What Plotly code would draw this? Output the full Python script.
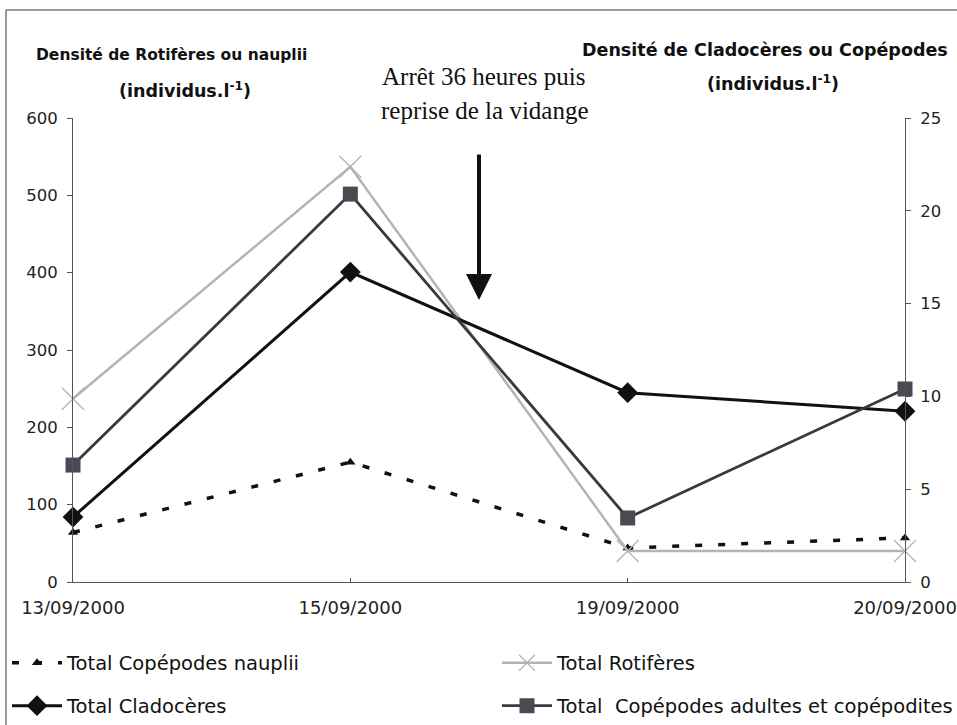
import plotly.graph_objects as go

# Sampling dates (category axis)
dates = ["13/09/2000", "15/09/2000", "19/09/2000", "20/09/2000"]

# Left axis: densities of rotifers / nauplii (individus.l-1)
nauplii = [64, 155, 44, 57]
rotiferes = [237, 537, 40, 40]

# Right axis: densities of cladocerans / copepods (individus.l-1)
cladoceres = [3.5, 16.7, 10.2, 9.2]
copepodes_adultes = [6.3, 20.9, 3.45, 10.4]

left_ticks = [0, 100, 200, 300, 400, 500, 600]
right_ticks = [0, 5, 10, 15, 20, 25]

W, H = 957, 725
PL, PR, PT, PB = 73, 905, 118, 582


def px_x(x):
    return (x - PL) / (PR - PL)


def px_y(y):
    return (PB - y) / (PB - PT)


SANS = "DejaVu Sans"
SERIF = "Liberation Serif"

fig = go.Figure()

fig.add_trace(go.Scatter(
    x=dates, y=nauplii, name="Total Copépodes nauplii", yaxis="y",
    mode="lines+markers", cliponaxis=False, legend="legend",
    line=dict(color="#111111", width=3.5, dash="7px,16px"),
    marker=dict(symbol="triangle-up", size=9, color="#111111"),
))
fig.add_trace(go.Scatter(
    x=dates, y=rotiferes, name="Total Rotifères", yaxis="y",
    mode="lines+markers", cliponaxis=False, legend="legend2",
    line=dict(color="#b4b4b4", width=2.5),
    marker=dict(symbol="x-thin-open", size=22,
                line=dict(color="#a0a0a0", width=1.3)),
))
fig.add_trace(go.Scatter(
    x=dates, y=cladoceres, name="Total Cladocères", yaxis="y2",
    mode="lines+markers", cliponaxis=False, legend="legend3",
    line=dict(color="#111111", width=3),
    marker=dict(symbol="diamond", size=16, color="#111111"),
))
fig.add_trace(go.Scatter(
    x=dates, y=copepodes_adultes,
    name="Total\u00a0 Copépodes adultes et copépodites", yaxis="y2",
    mode="lines+markers", cliponaxis=False, legend="legend4",
    line=dict(color="#3a3a3e", width=2.8),
    marker=dict(symbol="square", size=15, color="#4a4a55"),
))

axis_font = dict(family=SANS, size=16.5, color="#222222")

fig.update_layout(
    width=W, height=H,
    margin=dict(l=PL, r=W - PR, t=PT, b=H - PB, autoexpand=False),
    paper_bgcolor="white", plot_bgcolor="white",
    showlegend=True,
    xaxis=dict(
        type="category", categoryorder="array", categoryarray=dates,
        range=[0, len(dates) - 1], showgrid=False, zeroline=False,
        showline=True, linecolor="#555555", linewidth=1,
        ticks="inside", ticklen=4, tickcolor="#555555",
        tickfont=dict(family=SANS, size=18, color="#222222"),
        ticklabelstandoff=9, automargin=False,
    ),
    yaxis=dict(
        range=[0, 600], tickvals=left_ticks, showgrid=False, zeroline=False,
        showline=True, linecolor="#555555", linewidth=1,
        ticks="outside", ticklen=5, tickcolor="#555555",
        tickfont=axis_font, ticklabelstandoff=6, automargin=False,
    ),
    yaxis2=dict(
        range=[0, 25], tickvals=right_ticks, overlaying="y", side="right",
        anchor="x", showgrid=False, zeroline=False,
        showline=True, linecolor="#555555", linewidth=1,
        ticks="outside", ticklen=5, tickcolor="#555555",
        tickfont=axis_font, ticklabelstandoff=6, automargin=False,
    ),
)

legend_font = dict(family=SANS, size=19.5, color="#111111")
legend_common = dict(font=legend_font, bgcolor="rgba(0,0,0,0)",
                     borderwidth=0, itemwidth=50, xanchor="left",
                     yanchor="middle", orientation="v")
fig.update_layout(
    legend=dict(x=px_x(7), y=px_y(663), **legend_common),
    legend2=dict(x=px_x(497), y=px_y(663), **legend_common),
    legend3=dict(x=px_x(7), y=px_y(706), **legend_common),
    legend4=dict(x=px_x(497), y=px_y(706), **legend_common),
)

# Axis headings
heads = [
    ("<b>Densité de Rotifères ou nauplii</b>", 171, 55, 15.5),
    ("<b>(individus.l<sup>-1</sup>)</b>", 185, 90, 17.5),
    ("<b>Densité de Cladocères ou Copépodes</b>", 765, 50, 17.5),
    ("<b>(individus.l<sup>-1</sup>)</b>", 773, 83, 17.5),
]
for text, x, y, size in heads:
    fig.add_annotation(text=text, x=px_x(x), y=px_y(y), xref="paper",
                       yref="paper", showarrow=False,
                       font=dict(family=SANS, size=size, color="#111111"),
                       xanchor="center", yanchor="middle")

# Event note and arrow
note_font = dict(family=SERIF, size=25, color="#111111")
for text, x, y in [("Arrêt 36 heures puis", 483, 77),
                   ("reprise de la vidange", 485, 111)]:
    fig.add_annotation(text=text, x=px_x(x), y=px_y(y), xref="paper",
                       yref="paper", showarrow=False, font=note_font,
                       xanchor="center", yanchor="middle")

fig.add_annotation(
    x=px_x(479), y=px_y(300), xref="paper", yref="paper", text="",
    showarrow=True, axref="pixel", ayref="pixel", ax=0, ay=-147,
    arrowhead=2, arrowsize=1.3, arrowwidth=4, arrowcolor="#111111",
)

# Frame around the figure
fig.add_shape(type="line", xref="paper", yref="paper",
              x0=px_x(6), x1=px_x(6), y0=px_y(10), y1=px_y(730),
              line=dict(color="#777777", width=1.5))
fig.add_shape(type="line", xref="paper", yref="paper",
              x0=px_x(6), x1=px_x(960), y0=px_y(10), y1=px_y(10),
              line=dict(color="#777777", width=1.5))

fig.write_html("out.html")
